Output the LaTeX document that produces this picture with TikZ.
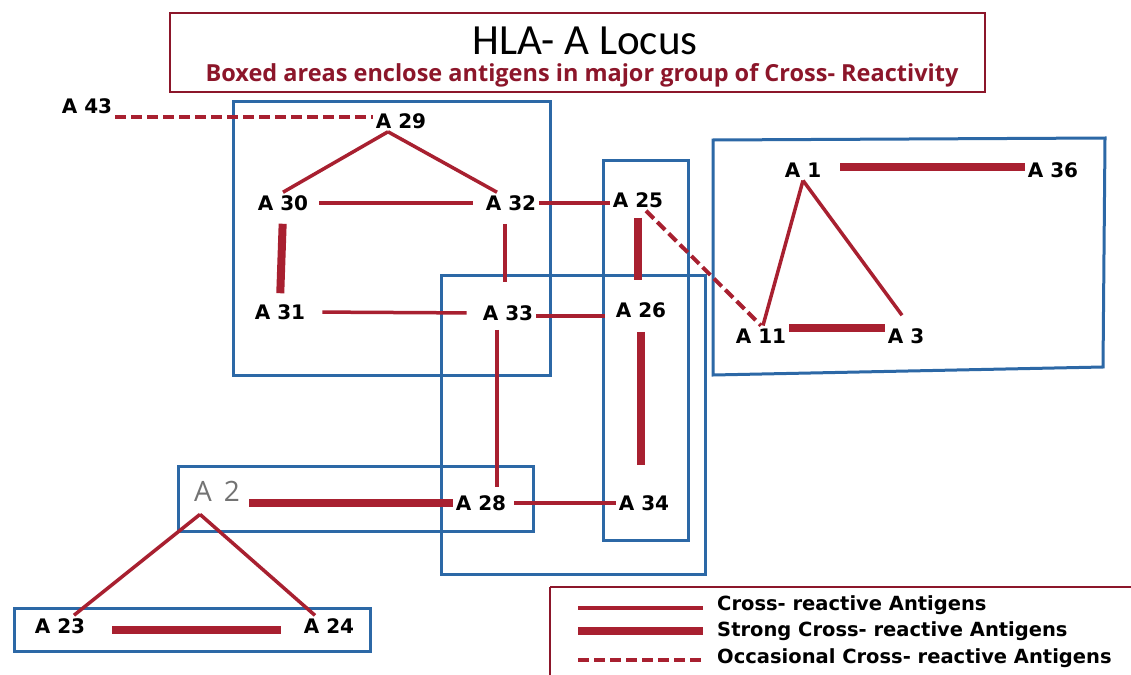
\documentclass[tikz,border=0pt]{standalone}
\usepackage{fontspec}
\setmainfont{Carlito}
\newfontfamily\agfont{DejaVu Sans}
\newfontfamily\legfont{Open Sans}
\usetikzlibrary{calc}
\definecolor{crred}{RGB}{168,32,48}
\definecolor{boxblue}{RGB}{44,104,166}
\definecolor{subred}{RGB}{140,22,42}

\begin{document}
\begin{tikzpicture}[x=1pt,y=-1pt]
					\tikzset{ag/.style={font=\agfont\bfseries\fontsize{20}{20}\selectfont,inner sep=3pt}}
					\tikzset{cr/.style={crred,line width=3.5pt}}
					\tikzset{strong/.style={crred,line width=8pt}}
					\tikzset{occ/.style={crred,line width=4pt,dash pattern=on 11pt off 5pt}}
					\tikzset{grp/.style={boxblue,line width=3pt}}
					\tikzset{legtext/.style={anchor=west,font=\agfont\bfseries\fontsize{19.5}{19.5}\selectfont,inner sep=0pt}}
					\useasboundingbox[fill=white] (0,0) rectangle (1131,674);
					% title
					\draw[subred,line width=2.5pt] (170,13) rectangle (985,92);
					\node[inner sep=0pt] (title) at (585,41) {\fontsize{43}{43}\selectfont HLA- A Locus};
					\node[inner sep=0pt,text=subred,font=\legfont\bfseries\fontsize{23.5}{23.5}\selectfont] (sub) at (582,75) {Boxed areas enclose antigens in major group of Cross- Reactivity};
					% group boxes
					\draw[grp] (233,102) rectangle (550,375);
					\draw[grp] (441,275) rectangle (705,574);
					\draw[grp] (603,160) rectangle (688,540);
					\draw[grp] (713,140) -- (1105,138) -- (1103,367) -- (713,375) -- cycle;
					\draw[grp] (178,466) rectangle (533,531);
					\draw[grp] (14,608) rectangle (370,651);
					% antigens
					\node[ag] (a43) at (87,106) {A 43};
					\node[ag] (a29) at (401,121) {A 29};
					\node[ag] (a30) at (283,203) {A 30};
					\node[ag] (a32) at (511,203) {A 32};
					\node[ag] (a25) at (638,200) {A 25};
					\node[ag] (a31) at (280,312) {A 31};
					\node[ag] (a33) at (508,313) {A 33};
					\node[ag] (a26) at (641,310) {A 26};
					\node[ag] (a1) at (803,170) {A 1};
					\node[ag] (a36) at (1053,170) {A 36};
					\node[ag] (a11) at (761,336) {A 11};
					\node[ag] (a3) at (906,336) {A 3};
					\node[ag] (a28) at (481,503) {A 28};
					\node[ag] (a34) at (644,503) {A 34};
					\node[ag] (a23) at (60,626) {A 23};
					\node[ag] (a24) at (329,626) {A 24};
					\node[font=\legfont\fontsize{28}{28}\selectfont,text=black!55,inner sep=3pt] (a2) at (217,491) {A\hspace{5pt} 2};
					% links
					\draw[occ] (a43.south east) -- (a43.south east -| a29.west);
					\draw[cr] ([xshift=-13pt]a29.south) -- (a30.north);
					\draw[cr] ([xshift=-13pt]a29.south) -- ([xshift=-14pt]a32.north);
					\draw[cr,shorten <=8pt,shorten >=10pt] (a30.east) -- (a32.west);
					\draw[cr] (a32.east) -- (a32.east -| a25.west);
					\draw[strong,shorten <=10pt,shorten >=8pt] (a30.south) -- (a31.north);
					\draw[cr,shorten <=10pt,shorten >=20pt] ([xshift=-6pt]a32.south) -- ([xshift=-6pt]a32.south |- a33.north);
					\draw[cr,shorten <=14pt,shorten >=13pt] (a31.east) -- (a33.west);
					\draw[cr,shorten >=8pt] ([yshift=-3pt]a33.east) -- ([yshift=-3pt]a33.east -| a26.west);
					\draw[strong,shorten <=7pt,shorten >=19pt] (a25.south) -- (a25.south |- a26.north);
					\draw[occ] ([xshift=8pt]a25.south) -- (a11.north);
					\draw[cr,shorten <=6pt,shorten >=5pt] ([xshift=-11pt]a33.south) -- ([xshift=-11pt]a33.south |- a28.north);
					\draw[strong,shorten <=11pt,shorten >=27pt] (a26.south) -- (a26.south |- a34.north);
					\draw[cr,shorten <=5pt] (a28.east) -- (a34.west);
					\draw[strong,shorten <=6pt] (a2.east |- a28.west) -- (a28.west);
					\draw[cr] ([shift={(-17pt,-10pt)}]a2.south) -- ([xshift=14pt]a23.north);
					\draw[cr] ([shift={(-17pt,-10pt)}]a2.south) -- ([xshift=-14pt]a24.north);
					\draw[strong,shorten <=24pt,shorten >=20pt] ([yshift=-4pt]a23.east) -- ([yshift=-4pt]a24.west);
					\draw[strong,shorten <=16pt] ([yshift=3pt]a1.east) -- ([yshift=3pt]a36.west);
					\draw[cr] (a1.south) -- ([xshift=2pt]a11.north);
					\draw[cr] (a1.south) -- ([shift={(-4pt,10pt)}]a3.north);
					\draw[strong] ([yshift=8pt]a11.east) -- ([yshift=8pt]a3.west);
					% legend
					\draw[subred,line width=2.5pt] (550,587) -- (1140,587);
					\draw[subred,line width=2.5pt] (550,587) -- (550,680);
					\node[legtext] (l1) at (717,605) {Cross- reactive Antigens};
					\node[legtext] (l2) at (717,631) {Strong Cross- reactive Antigens};
					\node[legtext] (l3) at (717,658) {Occasional Cross- reactive Antigens};
					\draw[cr] ([shift={(-139pt,-3pt)}]l1.west) -- ([shift={(-14pt,-3pt)}]l1.west);
					\draw[strong] ([xshift=-139pt]l2.west) -- ([xshift=-14pt]l2.west);
					\draw[occ] ([shift={(-139pt,-2pt)}]l3.west) -- ([shift={(-14pt,-2pt)}]l3.west);
				\end{tikzpicture}
\end{document}
